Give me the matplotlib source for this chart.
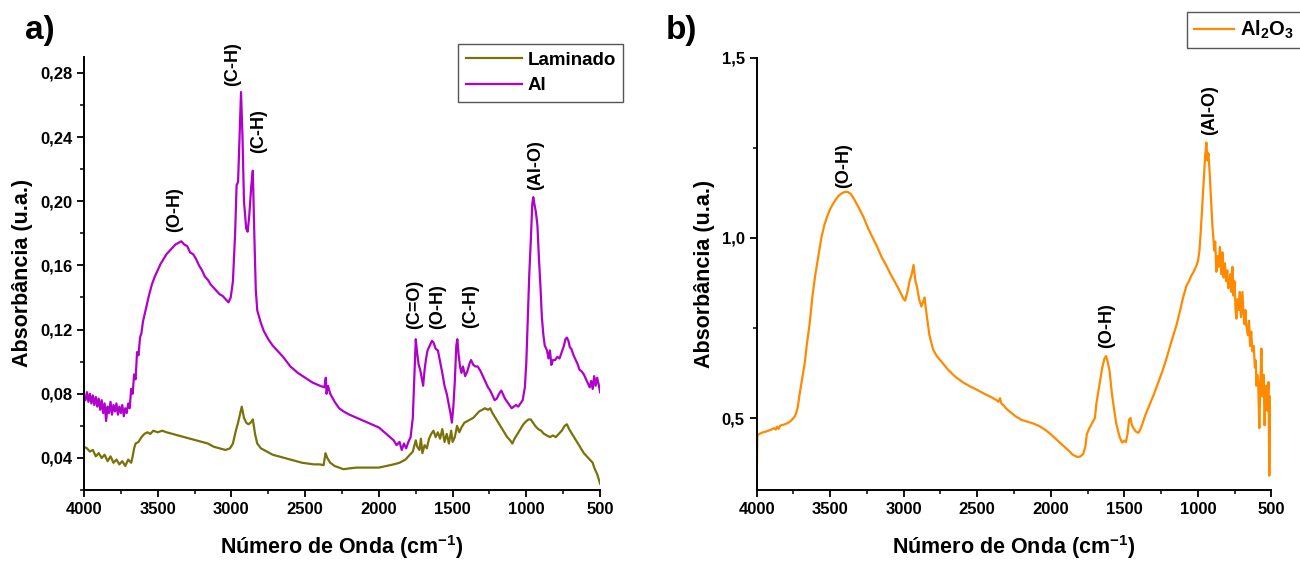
import matplotlib
matplotlib.use("Agg")
import matplotlib.pyplot as plt
from matplotlib.ticker import MultipleLocator, FuncFormatter

plt.rcParams['font.family'] = ['Liberation Sans', 'DejaVu Sans']
plt.rcParams['font.weight'] = 'bold'
plt.rcParams['axes.labelweight'] = 'bold'
plt.rcParams['mathtext.default'] = 'regular'

# ---- panel a: Laminado / Al ----
al_wn = [4000, 3990, 3980, 3970, 3960, 3950, 3940, 3930, 3920, 3910, 3900, 3890, 3880, 3870,
         3860, 3850, 3840, 3830, 3820, 3810, 3800, 3790, 3780, 3770, 3760, 3750, 3740, 3730,
         3720, 3710, 3700, 3690, 3680, 3670, 3660, 3650, 3640, 3630, 3620, 3610, 3600, 3580,
         3560, 3540, 3520, 3500, 3480, 3460, 3440, 3420, 3400, 3380, 3360, 3340, 3320, 3300,
         3280, 3260, 3240, 3220, 3200, 3180, 3160, 3140, 3120, 3100, 3080, 3060, 3040, 3020,
         3005, 2990, 2975, 2965, 2955, 2945, 2935, 2925, 2915, 2900, 2890, 2880, 2865, 2855,
         2845, 2835, 2825, 2800, 2780, 2750, 2720, 2690, 2650, 2600, 2550, 2500, 2450, 2400,
         2370, 2360, 2355, 2345, 2330, 2300, 2270, 2240, 2200, 2150, 2100, 2050, 2000, 1950,
         1900, 1880, 1860, 1845, 1830, 1815, 1800, 1785, 1770, 1760, 1750, 1740, 1730, 1720,
         1710, 1700, 1690, 1680, 1670, 1655, 1640, 1630, 1615, 1600, 1585, 1570, 1555, 1540,
         1525, 1515, 1505, 1495, 1485, 1475, 1468, 1460, 1450, 1440, 1430, 1415, 1400, 1385,
         1375, 1360, 1345, 1330, 1310, 1295, 1275, 1260, 1245, 1230, 1215, 1200, 1185, 1170,
         1160, 1145, 1130, 1115, 1100, 1085, 1070, 1055, 1040, 1025, 1010, 1000, 990, 980,
         970, 960, 953, 945, 935, 925, 915, 905, 895, 885, 875, 860, 850, 840, 830, 820, 805,
         790, 775, 760, 745, 735, 725, 715, 705, 695, 680, 665, 650, 640, 625, 610, 600, 590,
         580, 570, 560, 550, 540, 530, 520, 510, 500]
al_abs = [0.079, 0.076, 0.081, 0.075, 0.080, 0.074, 0.079, 0.073, 0.078, 0.072, 0.077, 0.070,
          0.076, 0.068, 0.074, 0.063, 0.072, 0.068, 0.075, 0.067, 0.073, 0.069, 0.074, 0.067,
          0.072, 0.068, 0.073, 0.066, 0.071, 0.068, 0.074, 0.071, 0.083, 0.080, 0.092, 0.089,
          0.106, 0.104, 0.115, 0.118, 0.125, 0.133, 0.141, 0.148, 0.153, 0.157, 0.161, 0.164,
          0.167, 0.169, 0.171, 0.173, 0.174, 0.175, 0.173, 0.172, 0.168, 0.167, 0.164, 0.160,
          0.157, 0.153, 0.151, 0.148, 0.146, 0.144, 0.142, 0.141, 0.139, 0.137, 0.140, 0.150,
          0.180, 0.210, 0.212, 0.240, 0.268, 0.240, 0.200, 0.183, 0.181, 0.190, 0.210, 0.219,
          0.180, 0.145, 0.132, 0.124, 0.119, 0.114, 0.110, 0.107, 0.103, 0.097, 0.093, 0.090,
          0.087, 0.085, 0.084, 0.090, 0.080, 0.085, 0.080, 0.075, 0.071, 0.069, 0.067, 0.065,
          0.063, 0.061, 0.059, 0.055, 0.051, 0.048, 0.050, 0.045, 0.049, 0.046, 0.050, 0.053,
          0.065, 0.090, 0.114, 0.105, 0.098, 0.095, 0.090, 0.085, 0.095, 0.102, 0.107, 0.110,
          0.113, 0.112, 0.108, 0.107, 0.100, 0.093, 0.085, 0.080, 0.073, 0.068, 0.062, 0.072,
          0.088, 0.110, 0.114, 0.105, 0.097, 0.093, 0.097, 0.091, 0.094, 0.099, 0.101, 0.098,
          0.097, 0.097, 0.094, 0.091, 0.087, 0.084, 0.082, 0.079, 0.076, 0.077, 0.080, 0.082,
          0.080, 0.077, 0.075, 0.073, 0.071, 0.072, 0.073, 0.072, 0.074, 0.076, 0.084, 0.100,
          0.128, 0.155, 0.175, 0.198, 0.2025, 0.198, 0.193, 0.185, 0.165, 0.148, 0.128, 0.117,
          0.110, 0.107, 0.102, 0.107, 0.098, 0.101, 0.101, 0.103, 0.102, 0.106, 0.110, 0.114,
          0.115, 0.113, 0.109, 0.108, 0.104, 0.101, 0.098, 0.095, 0.094, 0.092, 0.090, 0.088,
          0.086, 0.084, 0.088, 0.083, 0.091, 0.085, 0.090, 0.086, 0.081]

lam_wn = [4000, 3980, 3960, 3940, 3920, 3900, 3880, 3860, 3840, 3820, 3800, 3780, 3760, 3740,
          3720, 3700, 3680, 3670, 3660, 3650, 3630, 3610, 3590, 3570, 3550, 3530, 3500, 3470,
          3440, 3400, 3360, 3320, 3280, 3240, 3200, 3160, 3120, 3080, 3040, 3010, 2990, 2970,
          2955, 2945, 2930, 2915, 2900, 2885, 2870, 2855, 2840, 2825, 2800, 2760, 2720, 2680,
          2640, 2600, 2560, 2520, 2480, 2440, 2400, 2375, 2362, 2350, 2330, 2300, 2270, 2240,
          2200, 2150, 2100, 2050, 2000, 1950, 1900, 1860, 1820, 1790, 1770, 1750, 1740, 1725,
          1715, 1705, 1690, 1675, 1660, 1645, 1630, 1615, 1600, 1585, 1570, 1555, 1540, 1525,
          1510, 1500, 1485, 1470, 1455, 1440, 1420, 1400, 1380, 1360, 1340, 1320, 1300, 1280,
          1260, 1245, 1230, 1210, 1190, 1170, 1150, 1130, 1110, 1095, 1080, 1060, 1040, 1020,
          1000, 985, 970, 955, 940, 920, 900, 880, 860, 840, 820, 800, 780, 760, 740, 725, 710,
          690, 670, 650, 630, 610, 590, 570, 550, 540, 530, 520, 510, 500]
lam_abs = [0.047, 0.046, 0.044, 0.045, 0.041, 0.043, 0.040, 0.042, 0.038, 0.041, 0.037, 0.039,
           0.036, 0.038, 0.035, 0.039, 0.037, 0.041, 0.046, 0.049, 0.050, 0.053, 0.055, 0.056,
           0.055, 0.057, 0.056, 0.057, 0.056, 0.055, 0.054, 0.053, 0.052, 0.051, 0.050, 0.049,
           0.047, 0.046, 0.045, 0.046, 0.049, 0.057, 0.062, 0.066, 0.072, 0.065, 0.062, 0.061,
           0.062, 0.064, 0.055, 0.049, 0.046, 0.044, 0.042, 0.041, 0.040, 0.039, 0.038, 0.037,
           0.0365, 0.036, 0.036, 0.0355, 0.043, 0.040, 0.037, 0.035, 0.034, 0.033, 0.0335, 0.034,
           0.034, 0.034, 0.034, 0.035, 0.036, 0.037, 0.039, 0.042, 0.044, 0.051, 0.047, 0.045,
           0.052, 0.043, 0.048, 0.046, 0.052, 0.055, 0.057, 0.053, 0.056, 0.052, 0.058, 0.050,
           0.055, 0.049, 0.057, 0.050, 0.053, 0.060, 0.056, 0.059, 0.062, 0.063, 0.064, 0.065,
           0.067, 0.069, 0.070, 0.071, 0.070, 0.071, 0.068, 0.065, 0.062, 0.059, 0.056, 0.053,
           0.051, 0.049, 0.052, 0.055, 0.058, 0.061, 0.063, 0.064, 0.064, 0.062, 0.060, 0.058,
           0.057, 0.055, 0.054, 0.053, 0.054, 0.053, 0.055, 0.057, 0.060, 0.061, 0.058, 0.055,
           0.052, 0.049, 0.046, 0.043, 0.041, 0.039, 0.037, 0.034, 0.032, 0.030, 0.027, 0.024]

# ---- panel b: Al2O3 ----
alo_wn = [4000, 3995, 3980, 3960, 3940, 3920, 3900, 3880, 3870, 3860, 3850, 3840, 3820, 3800,
          3780, 3760, 3750, 3740, 3730, 3720, 3710, 3700, 3690, 3680, 3670, 3660, 3650, 3640,
          3620, 3600, 3580, 3560, 3540, 3520, 3500, 3480, 3460, 3440, 3420, 3400, 3380, 3360,
          3340, 3320, 3300, 3270, 3240, 3210, 3180, 3150, 3120, 3090, 3060, 3030, 3000, 2990,
          2975, 2960, 2945, 2933, 2920, 2910, 2895, 2880, 2870, 2858, 2845, 2825, 2800, 2775,
          2740, 2700, 2650, 2600, 2550, 2500, 2450, 2400, 2370, 2355, 2345, 2335, 2320, 2300,
          2270, 2240, 2200, 2160, 2120, 2080, 2040, 2000, 1960, 1920, 1880, 1850, 1820, 1800,
          1780, 1765, 1755, 1740, 1720, 1700, 1690, 1670, 1650, 1635, 1625, 1615, 1600, 1585,
          1570, 1555, 1540, 1530, 1515, 1500, 1490, 1478, 1468, 1458, 1448, 1435, 1420, 1404,
          1395, 1380, 1360, 1329, 1300, 1270, 1241, 1210, 1180, 1146, 1120, 1100, 1078, 1060,
          1045, 1030, 1010, 1000, 990, 980, 969, 960, 950, 942, 935, 928, 921, 912, 905, 901,
          895, 888, 882, 874, 866, 858, 850, 841, 833, 825, 816, 808, 800, 793, 786, 778, 772,
          765, 758, 750, 744, 738, 730, 722, 715, 707, 697, 690, 683, 676, 670, 660, 652, 645,
          637, 629, 620, 612, 606, 602, 596, 590, 582, 575, 568, 560, 553, 546, 540, 534, 527,
          520, 514, 508, 504, 500]
alo_abs = [0.300, 0.452, 0.456, 0.460, 0.462, 0.465, 0.468, 0.472, 0.468, 0.476, 0.470, 0.479,
           0.481, 0.484, 0.488, 0.495, 0.500, 0.505, 0.515, 0.530, 0.560, 0.585, 0.610, 0.635,
           0.660, 0.700, 0.730, 0.760, 0.840, 0.900, 0.950, 1.000, 1.035, 1.060, 1.080, 1.095,
           1.108, 1.118, 1.124, 1.128, 1.128, 1.122, 1.110, 1.095, 1.080, 1.055, 1.025, 1.000,
           0.975, 0.947, 0.925, 0.900, 0.878, 0.855, 0.830, 0.826, 0.850, 0.880, 0.900, 0.925,
           0.880, 0.865, 0.830, 0.810, 0.820, 0.835, 0.790, 0.730, 0.690, 0.672, 0.655, 0.635,
           0.615, 0.600, 0.588, 0.578, 0.567, 0.557, 0.550, 0.545, 0.555, 0.540, 0.535, 0.525,
           0.515, 0.505, 0.495, 0.490, 0.485, 0.478, 0.468, 0.455, 0.440, 0.425, 0.410, 0.398,
           0.392, 0.393, 0.400, 0.420, 0.455, 0.470, 0.485, 0.500, 0.540, 0.590, 0.640, 0.665,
           0.672, 0.660, 0.630, 0.570, 0.525, 0.485, 0.460, 0.445, 0.432, 0.437, 0.433, 0.455,
           0.495, 0.500, 0.480, 0.470, 0.462, 0.459, 0.465, 0.480, 0.505, 0.536, 0.565, 0.598,
           0.630, 0.670, 0.712, 0.757, 0.800, 0.835, 0.867, 0.880, 0.895, 0.905, 0.923, 0.935,
           0.961, 1.020, 1.100, 1.160, 1.230, 1.265, 1.215, 1.235, 1.190, 1.120, 1.060, 1.033,
           1.000, 0.965, 0.990, 0.906, 0.950, 0.920, 0.975, 0.900, 0.960, 0.890, 0.930, 0.880,
           0.910, 0.860, 0.867, 0.900, 0.850, 0.920, 0.840, 0.880, 0.800, 0.776, 0.830, 0.800,
           0.850, 0.780, 0.850, 0.790, 0.760, 0.800, 0.757, 0.730, 0.770, 0.700, 0.740, 0.685,
           0.700, 0.640, 0.660, 0.590, 0.620, 0.600, 0.472, 0.600, 0.693, 0.560, 0.620, 0.480,
           0.580, 0.590, 0.520, 0.600, 0.340, 0.560, 0.500, 0.520]

# peak labels: (text, wavenumber, absorbance of label centre)
labels_a = [("(O-H)", 3385, 0.195), ("(C-H)", 2990, 0.2856), ("(C-H)", 2815, 0.2438),
            ("(C=O)", 1755, 0.1356), ("(O-H)", 1600, 0.1344), ("(C-H)", 1375, 0.1344),
            ("(Al-O)", 940, 0.2225)]
labels_b = [("(O-H)", 3405, 1.2), ("(O-H)", 1620, 0.757), ("(Al-O)", 921, 1.354)]

c_lam = '#7a7208'
c_al = '#b000cc'
c_alo = '#ff8a00'

fig = plt.figure(figsize=(13, 5.62), dpi=100)
ax1 = fig.add_axes([0.0646, 0.128, 0.397, 0.771])
ax2 = fig.add_axes([0.582, 0.128, 0.396, 0.769])


def style_axis(ax):
    ax.spines[['top', 'right']].set_visible(False)
    for s in ['left', 'bottom']:
        ax.spines[s].set_linewidth(1.4)
    ax.tick_params(which='major', direction='out', length=5, width=1.3, labelsize=12)
    ax.tick_params(which='minor', direction='out', length=3, width=1.1)
    ax.set_xlim(4000, 500)
    ax.xaxis.set_major_locator(MultipleLocator(500))
    ax.xaxis.set_minor_locator(MultipleLocator(250))
    ax.set_xlabel('Número de Onda (cm$^{-1}$)', fontsize=15.5, labelpad=12)
    ax.set_ylabel('Absorbância (u.a.)', fontsize=15.5, labelpad=5)


ax1.plot(lam_wn, lam_abs, color=c_lam, lw=1.6, label='Laminado')
ax1.plot(al_wn, al_abs, color=c_al, lw=1.6, label='Al')
style_axis(ax1)
ax1.set_ylim(0.02, 0.29)
ax1.yaxis.set_major_locator(MultipleLocator(0.04))
ax1.yaxis.set_minor_locator(MultipleLocator(0.02))
ax1.yaxis.set_major_formatter(FuncFormatter(lambda v, p: f'{v:.2f}'.replace('.', ',')))
for txt, x, y in labels_a:
    ax1.text(x, y, txt, rotation=90, ha='center', va='center', fontsize=13)
ax1.legend(loc='upper left', bbox_to_anchor=(458 / 1300, 1 - 44 / 562),
           bbox_transform=fig.transFigure, fancybox=False, edgecolor='#555555',
           handlelength=3.0, handletextpad=0.3, borderpad=0.4,
           labelspacing=0.45, borderaxespad=0, framealpha=1,
           prop={'weight': 'bold', 'size': 13.5})

ax2.plot(alo_wn, alo_abs, color=c_alo, lw=1.6, label='Al$_2$O$_3$')
style_axis(ax2)
ax2.set_ylim(0.3, 1.5)
ax2.yaxis.set_major_locator(MultipleLocator(0.5))
ax2.yaxis.set_minor_locator(MultipleLocator(0.25))
ax2.yaxis.set_major_formatter(FuncFormatter(lambda v, p: f'{v:.1f}'.replace('.', ',')))
for txt, x, y in labels_b:
    ax2.text(x, y, txt, rotation=90, ha='center', va='center', fontsize=13)
ax2.legend(loc='upper left', bbox_to_anchor=(1187 / 1300, 1 - 12 / 562),
           bbox_transform=fig.transFigure, fancybox=False, edgecolor='#555555',
           handlelength=2.0, handletextpad=0.3, borderpad=0.35, borderaxespad=0,
           framealpha=1, prop={'weight': 'bold', 'size': 14.5})

fig.text(25 / 1300, 1 - 30 / 562, 'a)', fontsize=24, va='center', ha='left')
fig.text(666 / 1300, 1 - 30 / 562, 'b)', fontsize=24, va='center', ha='left')

fig.savefig('out.png', dpi=100)
